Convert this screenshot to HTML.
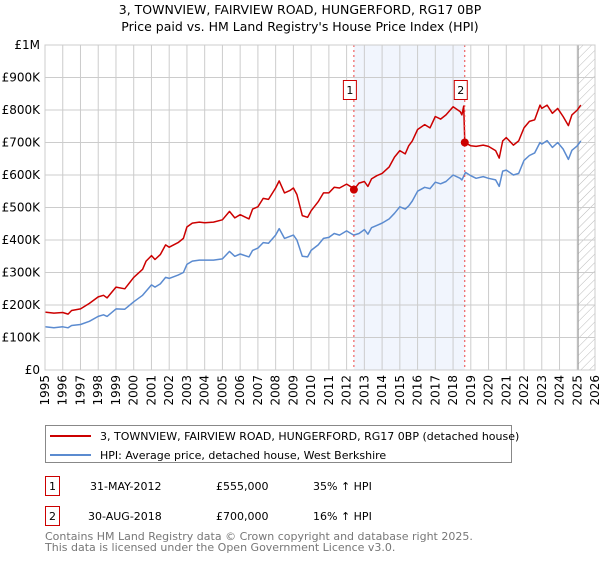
<!DOCTYPE html>
<html><head><meta charset="utf-8"><style>
body{margin:0;background:#fff;font-family:"Liberation Sans","DejaVu Sans",sans-serif;}
svg text{font-family:"DejaVu Sans","Liberation Sans",sans-serif;}
</style></head><body>
<svg id="c" width="600" height="560" xmlns="http://www.w3.org/2000/svg">
<defs><pattern id="hatch" width="6" height="6" patternUnits="userSpaceOnUse" patternTransform="rotate(45)"><line x1="0" y1="0" x2="0" y2="6" stroke="#bbb" stroke-width="1"/></pattern></defs>
<text x="300" y="14" text-anchor="middle" font-size="12.5" fill="#000">3, TOWNVIEW, FAIRVIEW ROAD, HUNGERFORD, RG17 0BP</text>
<text x="300" y="31" text-anchor="middle" font-size="12.5" fill="#000">Price paid vs. HM Land Registry's House Price Index (HPI)</text>
<g id="plot"></g>
<g>
<rect x="45.5" y="425.5" width="466" height="37" fill="#fff" stroke="#888"/>
<line x1="50" y1="436" x2="91" y2="436" stroke="#cc0000" stroke-width="2"/>
<text x="100" y="440" font-size="11">3, TOWNVIEW, FAIRVIEW ROAD, HUNGERFORD, RG17 0BP (detached house)</text>
<line x1="50" y1="455" x2="91" y2="455" stroke="#5b8bd0" stroke-width="2"/>
<text x="100" y="459" font-size="11">HPI: Average price, detached house, West Berkshire</text>
</g>
<g font-size="11">
<rect x="45.5" y="476.5" width="14" height="19" fill="#fff" stroke="#cc0000"/>
<text x="52.5" y="490" text-anchor="middle">1</text>
<text x="90" y="490">31-MAY-2012</text><text x="216" y="490">£555,000</text><text x="313" y="490">35% ↑ HPI</text>
<rect x="45.5" y="506.5" width="14" height="19" fill="#fff" stroke="#cc0000"/>
<text x="52.5" y="520" text-anchor="middle">2</text>
<text x="88" y="520">30-AUG-2018</text><text x="216" y="520">£700,000</text><text x="313" y="520">16% ↑ HPI</text>
</g>
<text x="45" y="540" font-size="11" fill="#777">Contains HM Land Registry data © Crown copyright and database right 2025.</text>
<text x="45" y="551" font-size="11" fill="#777">This data is licensed under the Open Government Licence v3.0.</text>
</svg>
<script>
const redYears=[1995.0,1995.5,1996.0,1996.3,1996.5,1997.0,1997.5,1998.0,1998.3,1998.5,1999.0,1999.5,2000.0,2000.5,2000.7,2001.0,2001.2,2001.5,2001.8,2002.0,2002.5,2002.8,2003.0,2003.3,2003.7,2004.0,2004.5,2005.0,2005.4,2005.7,2006.0,2006.5,2006.7,2007.0,2007.3,2007.6,2008.0,2008.2,2008.5,2008.8,2009.0,2009.2,2009.5,2009.8,2010.0,2010.4,2010.7,2011.0,2011.3,2011.6,2012.0,2012.3,2012.42,2012.7,2013.0,2013.2,2013.4,2013.7,2014.0,2014.4,2014.7,2015.0,2015.3,2015.5,2015.7,2016.0,2016.4,2016.7,2017.0,2017.3,2017.6,2018.0,2018.4,2018.5,2018.6,2018.66,2019.0,2019.3,2019.7,2020.0,2020.4,2020.6,2020.8,2021.0,2021.4,2021.7,2022.0,2022.3,2022.6,2022.9,2023.0,2023.3,2023.6,2023.9,2024.2,2024.5,2024.7,2025.0,2025.2];
const redValues=[178,175,177,172,183,188,205,225,230,222,255,250,285,310,335,352,340,355,385,378,392,405,440,452,455,453,455,462,488,468,478,465,495,502,528,525,560,582,545,552,560,540,475,470,490,518,545,545,562,560,572,562,555,575,580,565,588,598,605,625,655,675,665,690,705,740,755,745,780,772,785,810,795,785,812,700,690,688,692,688,675,652,705,715,692,705,745,765,770,815,805,815,790,805,780,752,785,800,815];
const hpiYears=[1995,1995.5,1996,1996.3,1996.5,1997,1997.5,1998,1998.3,1998.5,1999,1999.5,2000,2000.5,2001,2001.2,2001.5,2001.8,2002,2002.5,2002.8,2003,2003.3,2003.7,2004.5,2005,2005.4,2005.7,2006,2006.5,2006.7,2007,2007.3,2007.6,2008,2008.2,2008.5,2009.0,2009.2,2009.5,2009.8,2010,2010.4,2010.7,2011,2011.3,2011.6,2012,2012.4,2012.7,2013,2013.2,2013.4,2013.7,2014,2014.4,2014.7,2015,2015.3,2015.5,2015.7,2016,2016.4,2016.7,2017,2017.3,2017.6,2018,2018.4,2018.5,2018.7,2019,2019.3,2019.7,2020,2020.4,2020.6,2020.8,2021,2021.4,2021.7,2022,2022.3,2022.6,2022.9,2023,2023.3,2023.6,2023.9,2024.2,2024.5,2024.7,2025,2025.2];
const hpiValues=[133,130,133,130,137,140,150,165,170,165,188,187,210,230,262,255,265,285,282,292,300,325,335,338,338,342,365,350,357,348,368,375,392,390,415,435,405,415,400,350,348,368,385,405,408,420,415,428,415,420,432,418,438,445,452,465,482,502,495,505,520,550,562,558,578,573,580,600,590,585,608,598,590,595,590,585,565,612,615,600,605,645,660,668,700,695,706,685,700,680,648,676,690,705];
const saleYears=[2012.41,2018.66];
const saleValues=[555,700];
const saleLabels=["1","2"];
const yTicks=[0,100,200,300,400,500,600,700,800,900,1000];
const yTickLabels=["£0","£100K","£200K","£300K","£400K","£500K","£600K","£700K","£800K","£900K","£1M"];
const xTicks=[1995,1996,1997,1998,1999,2000,2001,2002,2003,2004,2005,2006,2007,2008,2009,2010,2011,2012,2013,2014,2015,2016,2017,2018,2019,2020,2021,2022,2023,2024,2025,2026];

const X0=45,X1=595,Y0=370,Y1=45;
const xs=y=>X0+(y-1995)/(2026-1995)*(X1-X0);
const ys=v=>Y0-v/1000*(Y0-Y1);
const NS="http://www.w3.org/2000/svg";
const g=document.getElementById('plot');
function mk(t,a,p){const e=document.createElementNS(NS,t);for(const k in a)e.setAttribute(k,a[k]);(p||g).appendChild(e);return e;}

let e=mk('rect',{x:xs(saleYears[0]),y:Y1,width:xs(saleYears[1])-xs(saleYears[0]),height:Y0-Y1,fill:'#eef3fc',opacity:0.8});


e=mk('rect',{x:xs(2025.05),y:Y1,width:X1-xs(2025.05),height:Y0-Y1,fill:'url(#hatch)'});


for(let i=0;i<yTicks.length;i++){
  const y=ys(yTicks[i]);
  e=mk('line',{x1:X0,x2:X1,y1:y,y2:y,stroke:'#ccc','stroke-width':1});
  
  
  e=mk('text',{x:X0-5,y:y+4,'text-anchor':'end','font-size':12,fill:'#000'});
  e.textContent=yTickLabels[i];
  
  
}
for(const t of xTicks){
  const x=xs(t);
  e=mk('line',{x1:x,x2:x,y1:Y1,y2:Y0,stroke:'#ccc','stroke-width':1});
  
  
  e=mk('text',{x:0,y:0,'text-anchor':'end','font-size':12,fill:'#000',transform:`translate(${x+4},${Y0+5}) rotate(-90)`});
  e.textContent=t;
  
  
}
e=mk('line',{x1:xs(2025.05),x2:xs(2025.05),y1:Y1,y2:Y0,stroke:'#999','stroke-width':1});


function path(xa,va,col,name){
  const d=xa.map((x,i)=>(i?'L':'M')+xs(x).toFixed(1)+','+ys(va[i]).toFixed(1)).join('');
  const p=mk('path',{d:d,fill:'none',stroke:col,'stroke-width':1.5,'stroke-linejoin':'round'});
  
  
}
path(hpiYears,hpiValues,'#5b8bd0','hpi-line');
path(redYears,redValues,'#cc0000','property-price-line');
for(let i=0;i<saleYears.length;i++){
  const x=xs(saleYears[i]);
  e=mk('line',{x1:x,x2:x,y1:Y1,y2:Y0,stroke:'#ee4444','stroke-width':1,'stroke-dasharray':'2,3'});
  
  
  e=mk('circle',{cx:x,cy:ys(saleValues[i]),r:4,fill:'#cc0000'});
  
  
  e=mk('rect',{x:x-10.5,y:80.5,width:13,height:19,fill:'#fff',stroke:'#cc0000'});
  
  
  e=mk('text',{x:x-4,y:94,'text-anchor':'middle','font-size':11});
  e.textContent=saleLabels[i];
  
  
}
e=mk('rect',{x:X0,y:Y1,width:X1-X0,height:Y0-Y1,fill:'none',stroke:'#ccc'});


</script>
</body></html>
